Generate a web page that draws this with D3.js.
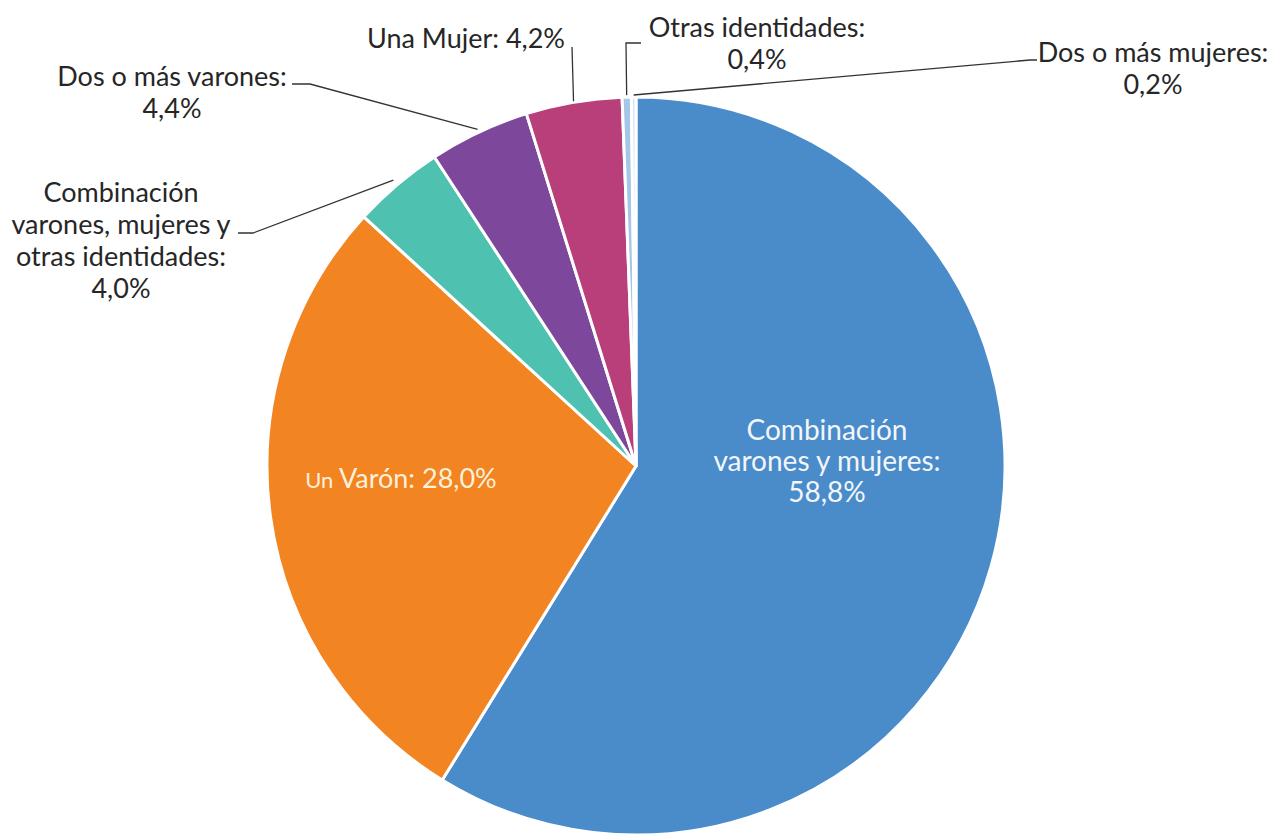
<!DOCTYPE html>
<html>
<head>
<meta charset="utf-8">
<script src="https://cdn.jsdelivr.net/npm/d3@7"></script>
<style>
  body { margin: 0; background: #fff; }
  text { font-family: Lato, "Open Sans", sans-serif; }
</style>
</head>
<body>
<script>
// data
var categories = ["Combinación varones y mujeres", "Un Varón", "Combinación varones, mujeres y otras identidades",
                  "Dos o más varones", "Una Mujer", "Otras identidades", "Dos o más mujeres"];
var values = [58.8, 28.0, 4.0, 4.4, 4.2, 0.4, 0.2];
var valueLabels = ["58,8%", "28,0%", "4,0%", "4,4%", "4,2%", "0,4%", "0,2%"];
var colors = ["#4a8bc9", "#f28421", "#4fc1b1", "#7d479c", "#b83f7a", "#a6c6e6", "#d6e5f4"];

var width = 1272, height = 836;
var cx = 636, cy = 466, r = 369;

var svg = d3.select("body").append("svg").attr("width", width).attr("height", height);
var g = svg.append("g").attr("transform", "translate(" + cx + "," + cy + ")");

var pie = d3.pie().sort(null).value(function(d){ return d; });
var arcs = pie(values);
var arc = d3.arc().innerRadius(0).outerRadius(r);

g.selectAll("path.slice")
  .data(arcs)
  .enter().append("path")
    .attr("class", "slice")
    .attr("d", arc)
    .attr("fill", function(d, i){ return colors[i]; })
    .attr("stroke", "#fff")
    .attr("stroke-width", 3)
    .attr("stroke-linejoin", "round");

// point on the rim at the middle of a slice, in page coords
function rim(i, rr) {
  var a = (arcs[i].startAngle + arcs[i].endAngle) / 2;
  return [cx + rr * Math.sin(a), cy - rr * Math.cos(a)];
}

// outside labels: text lines, centre x, first baseline, leader start/elbow
var outside = [
  {i: 2, lines: ["Combinación", "varones, mujeres y", "otras identidades:", valueLabels[2]], x: 121, y: 202, from: [238, 233], elbow: [253, 233], rr: 375},
  {i: 3, lines: ["Dos o más varones:", valueLabels[3]], x: 172, y: 86, from: [292, 84], elbow: [310, 84], rr: 372},
  {i: 4, lines: ["Una Mujer: " + valueLabels[4]], x: 466, y: 48, from: [572, 47], elbow: [572, 47], rr: 370},
  {i: 5, lines: ["Otras identidades:", valueLabels[5]], x: 757, y: 37, from: [641, 43], elbow: [626, 43], rr: 371},
  {i: 6, lines: ["Dos o más mujeres:", valueLabels[6]], x: 1153, y: 62, from: [1037, 60], elbow: [1030, 60], rr: 371}
];

var lab = svg.append("g");
outside.forEach(function(o){
  var end = rim(o.i, o.rr);
  lab.append("path")
    .attr("d", d3.line()([o.from, o.elbow, end]))
    .attr("fill", "none")
    .attr("stroke", "#333")
    .attr("stroke-width", 1.3);
  var t = lab.append("text")
    .attr("text-anchor", "middle")
    .attr("font-size", 27)
    .attr("fill", "#262626");
  o.lines.forEach(function(l, k){
    t.append("tspan").attr("x", o.x).attr("y", o.y + k * 32).text(l);
  });
});

// inside labels
var t1 = lab.append("text")
  .attr("x", 401).attr("y", 488)
  .attr("text-anchor", "middle")
  .attr("font-size", 27)
  .attr("fill", "#fdf1dc");
t1.append("tspan").attr("font-size", 22).text("Un ");
t1.append("tspan").text("Varón: " + valueLabels[1]);

var t0 = lab.append("text")
  .attr("text-anchor", "middle")
  .attr("font-size", 28)
  .attr("fill", "#f2f6fb");
["Combinación", "varones y mujeres:", valueLabels[0]].forEach(function(l, k){
  t0.append("tspan").attr("x", 827).attr("y", 440 + k * 31).text(l);
});
</script>
</body>
</html>
